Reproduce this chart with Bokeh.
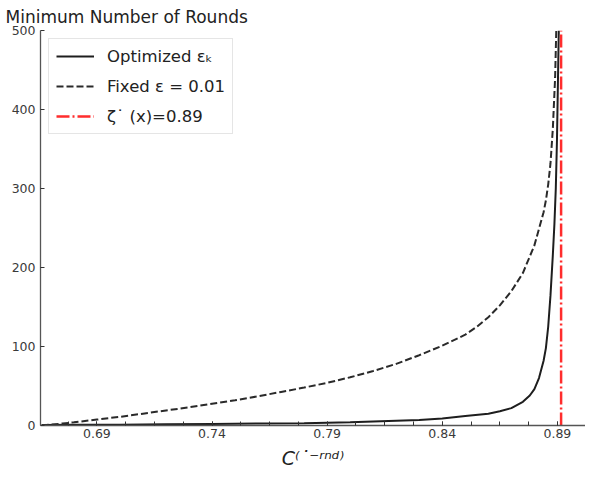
import numpy as np
from bokeh.plotting import figure
from bokeh.models import Range1d, FixedTicker, Legend, LegendItem
from bokeh.embed import file_html
from bokeh.resources import INLINE

# ---- data ----
opt_x = [0.666, 0.68, 0.70, 0.72, 0.74, 0.76, 0.78, 0.80, 0.81, 0.82, 0.83, 0.84,
         0.85, 0.86, 0.865, 0.87, 0.875, 0.878, 0.880, 0.882, 0.884, 0.885, 0.886,
         0.887, 0.888, 0.8887, 0.8893, 0.8898, 0.8902, 0.8906]
opt_y = [0.5, 0.8, 1.0, 1.5, 2.0, 2.5, 3.0, 4.0, 5.0, 6.0, 7.0, 9.0,
         12, 15, 18, 22, 30, 38, 46, 60, 82, 98, 125,
         165, 215, 255, 300, 360, 430, 500]

fix_x = [0.666, 0.675, 0.68, 0.69, 0.70, 0.71, 0.72, 0.73, 0.74, 0.75, 0.76, 0.77,
         0.78, 0.79, 0.80, 0.81, 0.82, 0.83, 0.84, 0.85, 0.855, 0.86, 0.865, 0.87,
         0.875, 0.88, 0.884, 0.885, 0.886, 0.887, 0.888, 0.889, 0.8895]
fix_y = [0, 2.5, 4, 7.5, 11, 15, 19, 23, 27.5, 32, 37, 42.5,
         48, 54, 61, 69, 78, 89, 101, 115, 125, 137, 152, 170,
         193, 228, 270, 285, 305, 332, 375, 440, 500]

zeta = 0.8916
zeta_y = [0, 500]

x_major = [0.69, 0.74, 0.79, 0.84, 0.89]
x_labels = ["0.69", "0.74", "0.79", "0.84", "0.89"]
y_major = [0, 100, 200, 300, 400, 500]

title_text = "Minimum Number of Rounds"
x_axis_label = "C\u207d\u02d9\u207b\u02b3\u207f\u1d48\u207e"
legend_labels = ["Optimized \u03b5\u2096", "Fixed \u03b5 = 0.01", "\u03b6\u02d9 (x)=0.89"]

FONT = "DejaVu Sans"

p = figure(width=585, height=473, output_backend="svg", toolbar_location=None,
           x_range=Range1d(0.6655, 0.9022), y_range=Range1d(0, 500),
           min_border_left=40, min_border_right=0, min_border_top=0,
           min_border_bottom=48)

p.title.text = title_text
p.title.text_font = FONT
p.title.text_font_size = "17px"
p.title.text_font_style = "normal"
p.title.text_color = "#222222"
p.title.align = "left"
p.title.offset = -35
p.title.standoff = 8

p.grid.visible = False
p.outline_line_color = None
p.background_fill_color = "white"
p.border_fill_color = "white"

minor = list(np.round(np.arange(0.665, 0.9026, 0.0125), 4))
p.xaxis.ticker = FixedTicker(ticks=x_major, minor_ticks=minor)
p.xaxis.major_label_overrides = {t: l for t, l in zip(x_major, x_labels)}
p.yaxis.ticker = FixedTicker(ticks=y_major, minor_ticks=[])

for ax in (p.xaxis[0], p.yaxis[0]):
    ax.axis_line_color = "#555555"
    ax.axis_line_width = 1.3
    ax.major_tick_in = 4
    ax.major_tick_out = 0
    ax.minor_tick_in = 4
    ax.minor_tick_out = 0
    ax.major_tick_line_color = "#333333"
    ax.minor_tick_line_color = "#333333"
    ax.major_label_text_font = FONT
    ax.major_label_text_font_size = "12.5px"
    ax.major_label_text_color = "#3a3a3a"
p.yaxis.major_label_standoff = 5
p.xaxis.major_label_standoff = 3

p.xaxis.axis_label = x_axis_label
p.xaxis.axis_label_text_font = FONT
p.xaxis.axis_label_text_font_size = "19px"
p.xaxis.axis_label_text_font_style = "italic"
p.xaxis.axis_label_text_color = "#222222"
p.xaxis.axis_label_standoff = 6

r_opt = p.line(opt_x, opt_y, line_color="#1e1e1e", line_width=2)
r_fix = p.line(fix_x, fix_y, line_color="#2a2a2a", line_width=2, line_dash="7 3")
r_z = p.line([zeta, zeta], zeta_y, line_color="#ff2d2d", line_width=2.5,
             line_dash="13 3 2 3")

legend = Legend(items=[LegendItem(label=legend_labels[0], renderers=[r_opt]),
                       LegendItem(label=legend_labels[1], renderers=[r_fix]),
                       LegendItem(label=legend_labels[2], renderers=[r_z])])
legend.location = "top_left"
legend.margin = 8
legend.padding = 7
legend.spacing = 10
legend.glyph_width = 38
legend.glyph_height = 20
legend.label_standoff = 13
legend.label_text_font = FONT
legend.label_text_font_size = "16.5px"
legend.label_text_color = "#222222"
legend.border_line_color = "#cccccc"
legend.border_line_width = 1
legend.background_fill_alpha = 0.85
p.add_layout(legend)

open("out.html", "w").write(file_html(p, INLINE))
